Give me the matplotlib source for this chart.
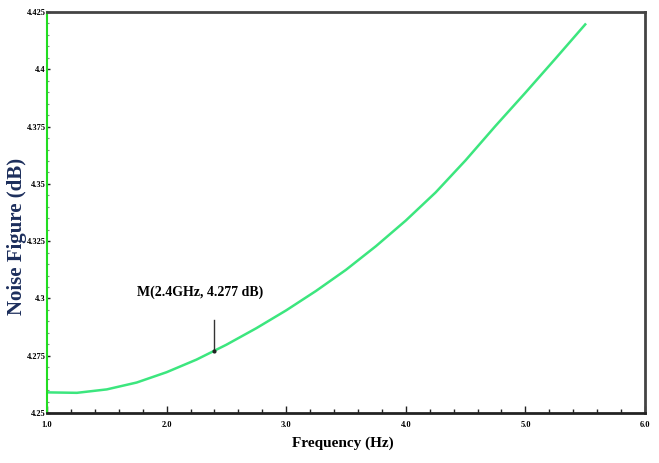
import matplotlib
matplotlib.use("Agg")
import matplotlib.pyplot as plt
from matplotlib.ticker import MultipleLocator

# values
freq = [1.0, 1.25, 1.5, 1.75, 2.0, 2.25, 2.5, 2.75, 3.0, 3.25,
        3.5, 3.75, 4.0, 4.25, 4.5, 4.75, 5.0, 5.25, 5.5]
noise_fig = [4.2590, 4.2588, 4.2603, 4.2633, 4.2678, 4.2733, 4.2798, 4.2870,
             4.2948, 4.3033, 4.3125, 4.3228, 4.3340, 4.3463, 4.3603, 4.3753,
             4.3898, 4.4046, 4.4196]

x_ticks = [1.0, 2.0, 3.0, 4.0, 5.0, 6.0]
x_labels = ["1.0", "2.0", "3.0", "4.0", "5.0", "6.0"]
y_ticks = [4.25, 4.275, 4.3, 4.325, 4.35, 4.375, 4.4, 4.425]
y_labels = ["4.25", "4.275", "4.3", "4.325", "4.35", "4.375", "4.4", "4.425"]

marker_f, marker_nf = 2.4, 4.277
marker_text = "M(2.4GHz, 4.277 dB)"

fig = plt.figure(figsize=(6.59, 4.63), dpi=100)
ax = fig.add_axes([0.0713, 0.108, 0.9075, 0.866])

ax.plot(freq, noise_fig, color="#3ce67e", lw=1.8)

ax.set_xlim(1.0, 6.0)
ax.set_ylim(4.25, 4.425)
ax.set_xticks(x_ticks)
ax.set_xticklabels(x_labels)
ax.set_yticks(y_ticks)
ax.set_yticklabels(y_labels)
ax.xaxis.set_minor_locator(MultipleLocator(0.2))
ax.yaxis.set_minor_locator(MultipleLocator(0.005))

for lab in ax.get_xticklabels() + ax.get_yticklabels():
    lab.set_fontfamily("Liberation Serif")
    lab.set_fontweight("bold")
    lab.set_fontsize(6)

ax.tick_params(axis="both", which="both", direction="in", color="#222222")
ax.tick_params(axis="x", which="major", length=5, width=1, pad=6)
ax.tick_params(axis="x", which="minor", length=3, width=1)
ax.tick_params(axis="y", which="major", length=2, width=1, pad=1)
ax.tick_params(axis="y", which="minor", length=1.5, width=0.8, color="#888888")

for side in ["top", "right"]:
    ax.spines[side].set_color("#444444")
    ax.spines[side].set_linewidth(2.0)
ax.spines["bottom"].set_color("#222222")
ax.spines["bottom"].set_linewidth(2.0)
ax.spines["left"].set_color("#22dd22")
ax.spines["left"].set_linewidth(1.5)

ax.set_xlabel("Frequency (Hz)", fontfamily="Liberation Serif", fontsize=11,
              fontweight="bold")
ax.xaxis.set_label_coords(0.494, -0.058)
ax.set_ylabel("Noise Figure (dB)", fontfamily="Liberation Serif", fontsize=15,
              fontweight="bold", color="#1c2e5c")
ax.yaxis.set_label_coords(-0.034, 0.44)

# marker annotation
ax.text(2.28, 4.3028, marker_text, ha="center", va="center",
        fontfamily="Liberation Serif", fontsize=10, fontweight="bold")
ax.plot([marker_f, marker_f], [marker_nf, 4.2906], color="#333333", lw=1.0)
ax.plot([marker_f], [marker_nf], "o", color="#222222", ms=2)

fig.savefig("out.png", dpi=100)
